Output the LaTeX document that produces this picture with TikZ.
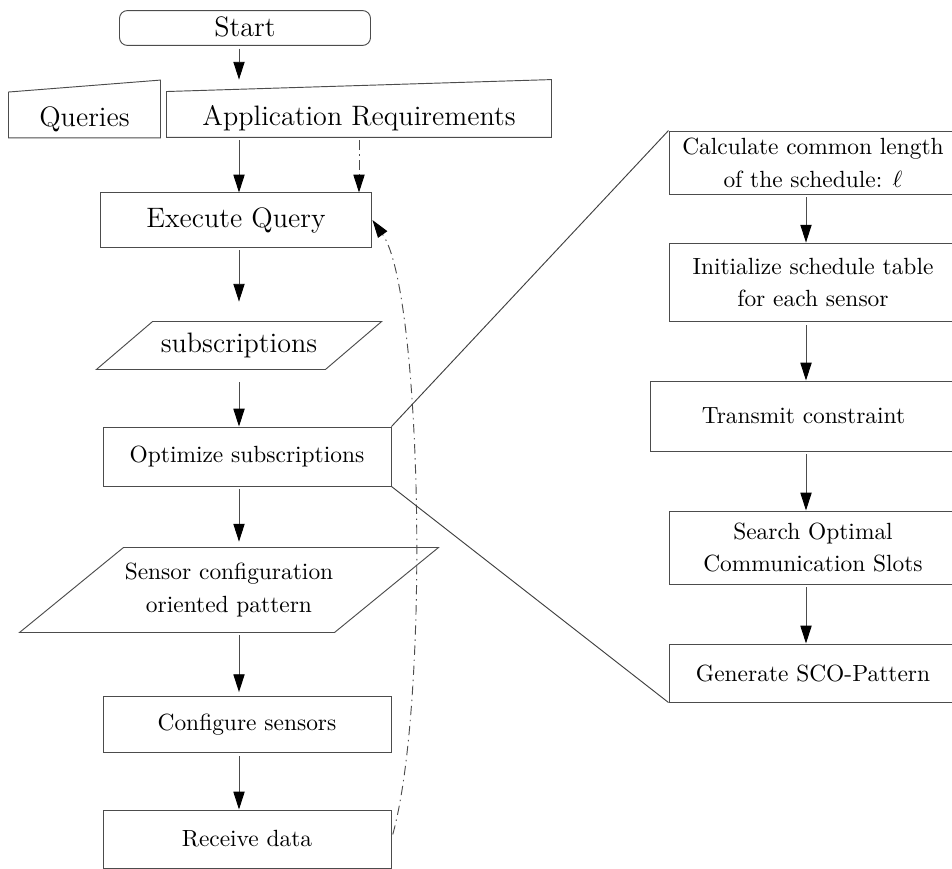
\documentclass[tikz,border=0pt]{standalone}
\usepackage{amsmath}
\usepackage{amssymb}
\usepackage{tikz}
\usetikzlibrary{arrows.meta}

\begin{document}
\begin{tikzpicture}[x=0.427pt,y=-0.427pt,
	box/.style={draw=black!70,rectangle,inner sep=0pt,align=center},
	plain/.style={inner sep=0pt,align=center},
	flow/.style={draw=black!70,-{Triangle[length=7.6pt,width=4.8pt,black]},shorten <=1.2pt},
	feedback/.style={flow,dash pattern=on 4pt off 2pt on 0.6pt off 2pt},
	zoomline/.style={draw=black!75}]
	\useasboundingbox (0,0) rectangle (952,869);
	\coordinate (lane) at (239,0);
	\coordinate (rlane) at (806,0);
	% left column
	\node[box,rounded corners=3.4pt,minimum width=107.2pt,minimum height=14.9pt,font=\large] (start) at (245,28) {\raisebox{-3.6pt}[0pt][0pt]{Start}};
	\node[plain,minimum width=64.5pt,minimum height=24.3pt,font=\large] (queries) at (84.5,109) {\raisebox{-7.4pt}[0pt][0pt]{Queries}};
	\node[plain,minimum width=164pt,minimum height=24.3pt,font=\large] (app) at (359,108.5) {\raisebox{-7.4pt}[0pt][0pt]{Application Requirements}};
	\draw[black!70] (queries.south west) -- ([yshift=-5.1pt]queries.north west) -- (queries.north east) -- (queries.south east) -- cycle;
	\draw[black!70] (app.south west) -- ([yshift=-5.1pt]app.north west) -- (app.north east) -- (app.south east) -- cycle;
	\node[box,minimum width=116.1pt,minimum height=23.1pt,font=\large] (exec) at (236,220) {Execute Query};
	\node[plain,minimum width=97.4pt,minimum height=20.1pt,font=\large] (subs) at (239,345.5) {subscriptions};
	\draw[black!70] ([xshift=-12pt]subs.south west) -- ([xshift=12pt]subs.north west) -- ([xshift=12pt]subs.north east) -- ([xshift=-12pt]subs.south east) -- cycle;
	\node[box,minimum width=123pt,minimum height=25.2pt] (opt) at (247,456.5) {Optimize subscriptions};
	\node[plain,minimum width=134.1pt,minimum height=35.9pt] (pattern) at (229,590) {Sensor configuration\\[2pt] oriented pattern};
	\draw[black!70] ([xshift=-22.2pt]pattern.south west) -- ([xshift=22.2pt]pattern.north west) -- ([xshift=22.2pt]pattern.north east) -- ([xshift=-22.2pt]pattern.south east) -- cycle;
	\node[box,minimum width=123pt,minimum height=24.3pt] (config) at (247,724.5) {Configure sensors};
	\node[box,minimum width=123pt,minimum height=24.8pt] (recv) at (247,839) {Receive data};
	% right column
	\node[box,minimum width=123pt,minimum height=26.9pt] (calc) at (813,162.5) {Calculate common length\\[2pt] of the schedule: $\ell$};
	\node[box,minimum width=123pt,minimum height=33.7pt] (init) at (813,282.5) {Initialize schedule table\\[2pt] for each sensor};
	\node[box,minimum width=131.1pt,minimum height=29.9pt] (trans) at (803.5,416) {Transmit constraint};
	\node[box,minimum width=123pt,minimum height=31.2pt] (search) at (813,547.5) {Search Optimal\\[2pt] Communication Slots};
	\node[box,minimum width=123pt,minimum height=24.8pt] (gen) at (813,673) {Generate SCO-Pattern};
	% connectors
	\draw[flow] (start.south -| lane) -- (app.north -| lane);
	\draw[flow] (app.south -| lane) -- (exec.north -| lane);
	\draw[feedback] (app.south -| 359,0) -- (exec.north -| 359,0);
	\draw[flow,shorten >=8.5pt] (exec.south -| lane) -- (subs.north -| lane);
	\draw[flow,shorten <=5.5pt] (subs.south -| lane) -- (opt.north -| lane);
	\draw[flow,shorten >=2.5pt] (opt.south -| lane) -- (pattern.north -| lane);
	\draw[flow,shorten >=1.5pt] (pattern.south -| lane) -- (config.north -| lane);
	\draw[flow] (config.south -| lane) -- (recv.north -| lane);
	\draw[feedback,shorten <=2pt] (recv.east) .. controls (430,700) and (422,290) .. (exec.east);
	\draw[flow] (calc.south -| rlane) -- (init.north -| rlane);
	\draw[flow] (init.south -| rlane) -- (trans.north -| rlane);
	\draw[flow] (trans.south -| rlane) -- (search.north -| rlane);
	\draw[flow] (search.south -| rlane) -- (gen.north -| rlane);
	\draw[zoomline] (opt.north east) -- (calc.north west);
	\draw[zoomline] (opt.south east) -- (gen.south west);
\end{tikzpicture}
\end{document}
